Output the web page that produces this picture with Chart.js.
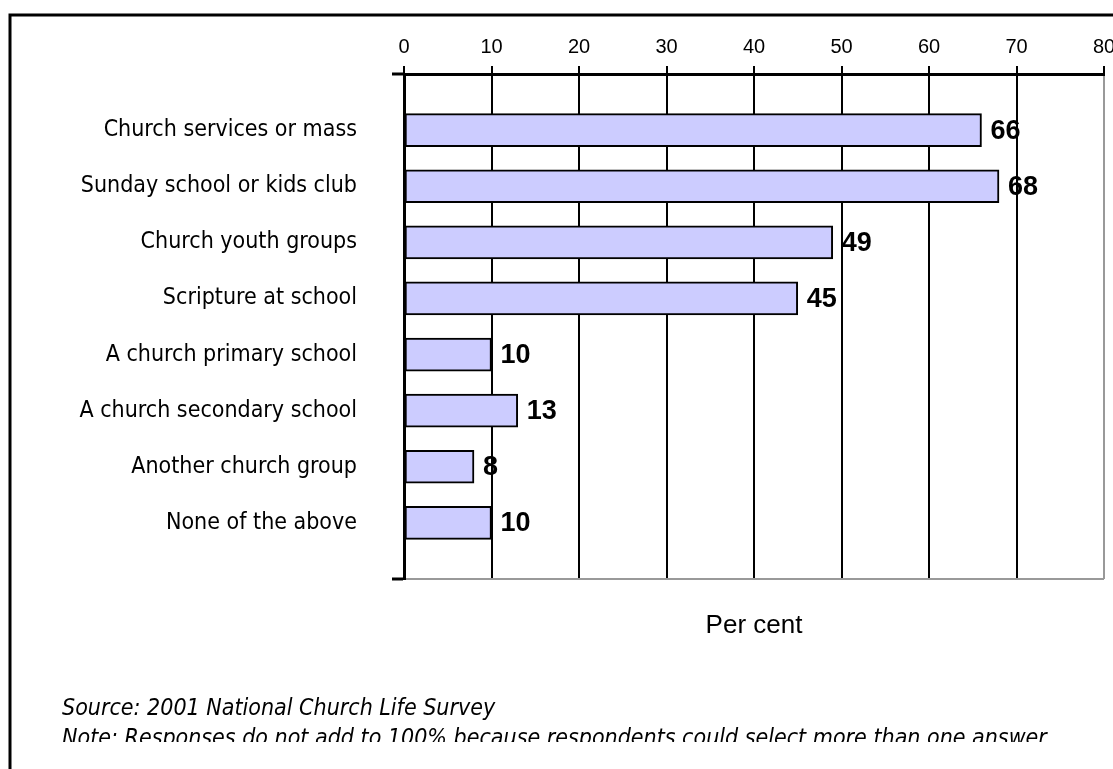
<!DOCTYPE html>
<html>
<head>
<meta charset="utf-8">
<script src="https://cdn.jsdelivr.net/npm/chart.js@4/dist/chart.umd.min.js"></script>
<style>
  html, body { margin: 0; padding: 0; background: #ffffff; }
  canvas { display: block; }
</style>
</head>
<body>
<canvas id="c" width="1113" height="769"></canvas>
<script>
const categories = [
  'Church services or mass',
  'Sunday school or kids club',
  'Church youth groups',
  'Scripture at school',
  'A church primary school',
  'A church secondary school',
  'Another church group',
  'None of the above'
];
const values = [66, 68, 49, 45, 10, 13, 8, 10];
const axisMin = 0;
const axisMax = 80;
const axisStep = 10;
const axisTitle = 'Per cent';
const sourceText = 'Source: 2001 National Church Life Survey';
const noteText = 'Note: Responses do not add to 100% because respondents could select more than one answer';

// Category axis has an empty slot above and below the bars
const labels = [''].concat(categories, ['']);
const barValues = [null].concat(values, [null]);

const LABEL_FONT = "'DejaVu Sans Condensed', 'DejaVu Sans', sans-serif";
const ARIAL = "'Liberation Sans', Arial, sans-serif";

const framePlugin = {
  id: 'frame',
  beforeDraw(chart) {
    const ctx = chart.ctx;
    ctx.save();
    ctx.fillStyle = '#ffffff';
    ctx.fillRect(0, 0, chart.width, chart.height);
    ctx.strokeStyle = '#000000';
    ctx.lineWidth = 3;
    ctx.strokeRect(10, 15, chart.width + 100, chart.height + 100);
    ctx.restore();
  }
};

const valueLabelPlugin = {
  id: 'valueLabels',
  afterDatasetsDraw(chart) {
    const ctx = chart.ctx;
    const meta = chart.getDatasetMeta(0);
    ctx.save();
    ctx.font = "bold 27px " + ARIAL;
    ctx.fillStyle = '#000000';
    ctx.textAlign = 'left';
    ctx.textBaseline = 'middle';
    meta.data.forEach((bar, i) => {
      const v = barValues[i];
      if (v === null || v === undefined) return;
      ctx.fillText(String(v), bar.x + 9, bar.y + 1);
    });
    ctx.restore();
  }
};

const footerPlugin = {
  id: 'footer',
  afterDraw(chart) {
    const ctx = chart.ctx;
    ctx.save();
    ctx.beginPath();
    ctx.rect(0, 0, chart.width, 742);
    ctx.clip();
    ctx.font = "italic 23px " + LABEL_FONT;
    ctx.fillStyle = '#000000';
    ctx.textAlign = 'left';
    ctx.textBaseline = 'alphabetic';
    ctx.fillText(sourceText, 62, 715);
    ctx.fillText(noteText, 62, 745);
    ctx.restore();
  }
};

new Chart(document.getElementById('c'), {
  type: 'bar',
  data: {
    labels: labels,
    datasets: [{
      data: barValues,
      backgroundColor: '#CCCCFF',
      borderColor: '#000000',
      borderWidth: 2,
      borderSkipped: false,
      barThickness: 33
    }]
  },
  options: {
    indexAxis: 'y',
    responsive: false,
    animation: false,
    events: [],
    layout: { padding: { left: 0, right: 9, top: 0, bottom: 124 } },
    plugins: {
      legend: { display: false },
      tooltip: { enabled: false },
      title: { display: false }
    },
    scales: {
      x: {
        type: 'linear',
        position: 'top',
        min: axisMin,
        max: axisMax,
        ticks: {
          stepSize: axisStep,
          color: '#000000',
          font: { family: ARIAL, size: 20 },
          padding: 7
        },
        grid: {
          drawOnChartArea: true,
          color: (c) => (c.tick && c.tick.value === axisMax) ? '#999999' : '#000000',
          tickColor: '#000000',
          lineWidth: 2,
          tickWidth: 2,
          tickLength: 8
        },
        border: { display: true, color: '#000000', width: 3 },
        afterFit(s) { s.height = 74; s.paddingLeft = 0; s.paddingRight = 0; }
      },
      x2: {
        type: 'linear',
        position: 'bottom',
        min: axisMin,
        max: axisMax,
        ticks: { display: false },
        grid: { display: false },
        border: { display: false },
        title: {
          display: true,
          text: axisTitle,
          color: '#000000',
          font: { family: ARIAL, size: 26 }
        },
        afterFit(s) { s.height = 66; s.paddingLeft = 0; s.paddingRight = 0; }
      },
      y: {
        type: 'category',
        position: 'left',
        offset: false,
        ticks: {
          autoSkip: false,
          color: '#000000',
          font: { family: LABEL_FONT, size: 23 },
          padding: 35
        },
        grid: {
          offset: false,
          drawOnChartArea: true,
          color: (c) => (c.index === labels.length - 1) ? '#999999' : 'rgba(0,0,0,0)',
          tickColor: (c) => (c.index === 0 || c.index === labels.length - 1) ? '#000000' : 'rgba(0,0,0,0)',
          lineWidth: 2,
          tickWidth: 3,
          tickLength: 12
        },
        border: { display: true, color: '#000000', width: 3 },
        afterFit(s) { s.width = 404; s.paddingTop = 0; s.paddingBottom = 0; }
      }
    }
  },
  plugins: [framePlugin, valueLabelPlugin, footerPlugin]
});
</script>
</body>
</html>
